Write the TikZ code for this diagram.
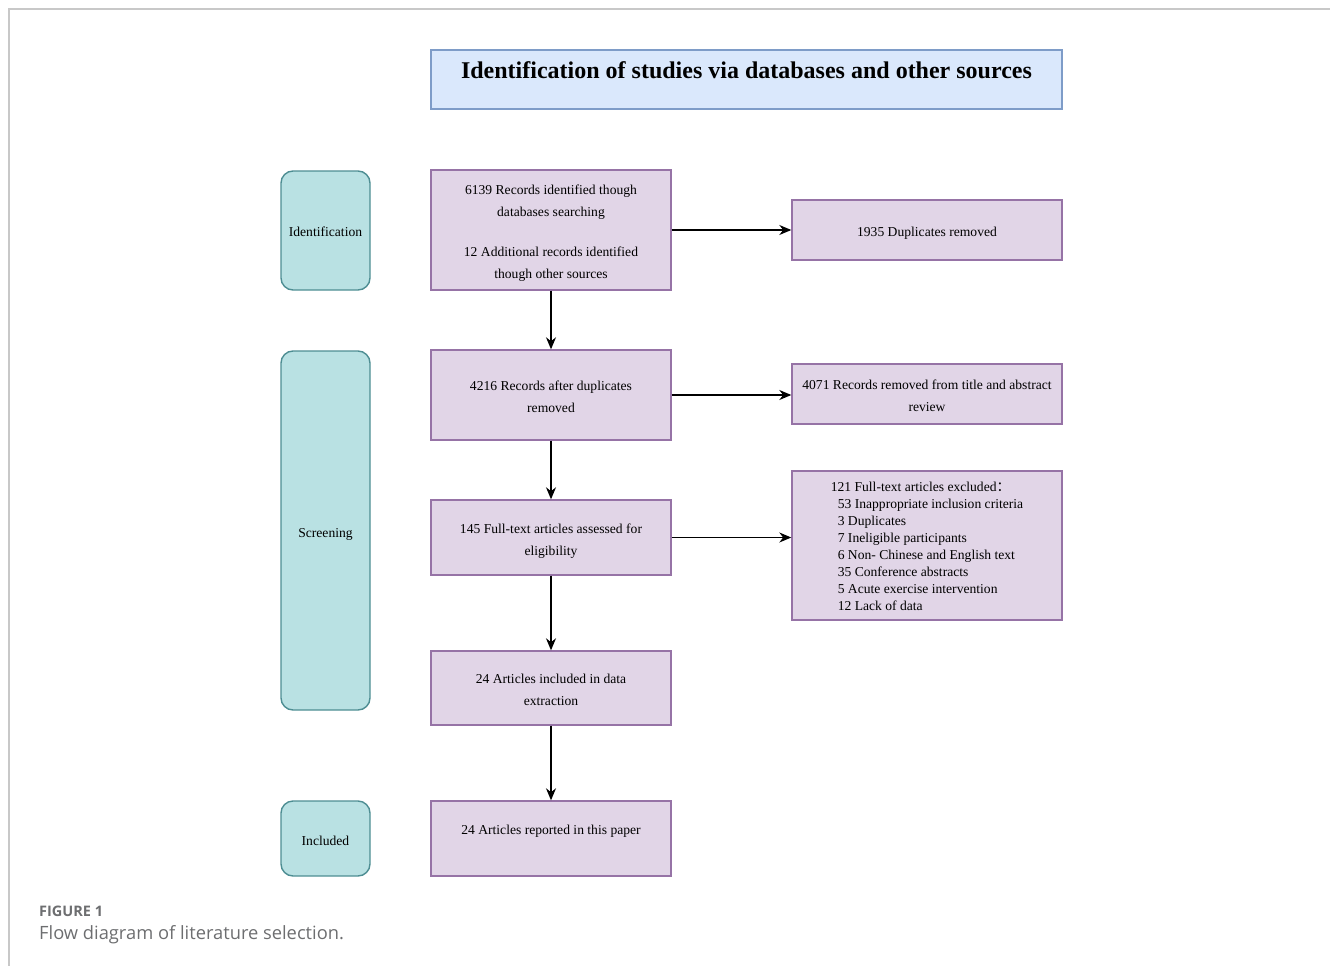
\documentclass[tikz,border=0pt]{standalone}
\usepackage{fontspec}
\setmainfont{Liberation Serif}
\newfontfamily\capfont{Open Sans}
\newfontfamily\cjk{Noto Sans CJK SC}
\usetikzlibrary{arrows.meta}
\definecolor{boxfill}{HTML}{E1D5E7}
\definecolor{boxline}{HTML}{9673A6}
\definecolor{stagefill}{HTML}{B9E1E3}
\definecolor{stageline}{HTML}{4E8E93}
\definecolor{titlefill}{HTML}{DAE8FC}
\definecolor{titleline}{HTML}{7E9CC8}
\definecolor{framegray}{HTML}{C8C8C8}
\definecolor{capgray}{HTML}{6D6E70}

\begin{document}
\begin{tikzpicture}[x=1pt,y=-1pt,font=\fontsize{13.6}{22}\selectfont,
  box/.style={draw=boxline,fill=boxfill,line width=1.4pt,align=center,inner sep=0pt,minimum width=240pt},
  side/.style={box,minimum width=270pt},
  stage/.style={draw=stageline,fill=stagefill,line width=1.4pt,rounded corners=12pt,minimum width=89pt,inner sep=0pt},
  tb/.style 2 args={text height=#1pt,text depth=#2pt},
  link/.style={->,line width=1.3pt},
  >={Stealth[length=12pt,width=10pt]}]
\useasboundingbox (0,0) rectangle (1331,966);
\draw[framegray,line width=1.2pt] (9,966) -- (9,9) -- (1330,9);
\node[draw=titleline,fill=titlefill,line width=1.4pt,minimum width=631pt,inner sep=0pt,tb={28}{31},font=\fontsize{24}{28}\selectfont\bfseries] (title) at (746.5,79.5) {Identification of studies via databases and other sources};
% stages
\node[stage,tb={65.5}{53.5}] (ident) at (325.5,230.5) {Identification};
\node[stage,tb={186.5}{172.5}] (screen) at (325.5,530.5) {Screening};
\node[stage,tb={44.5}{30.5}] (incl) at (325.5,838.5) {Included};
% main column
\node[box,tb={108.5}{11.5}] (found) at (551,230) {6139 Records identified though\\databases searching\\[18pt]12 Additional records identified\\though other sources};
\node[box,tb={62.5}{27.5}] (rec) at (551,395) {4216 Records after duplicates\\removed};
\node[box,tb={55.5}{19.5}] (full) at (551,537.5) {145 Full-text articles assessed for\\eligibility};
\node[box,tb={54.5}{19.5}] (extr) at (551,688) {24 Articles included in data\\extraction};
\node[box,tb={33.5}{41.5}] (rep) at (551,838.5) {24 Articles reported in this paper};
% side column
\node[side,tb={36.5}{23.5}] (dup) at (927,230) {1935 Duplicates removed};
\node[side,tb={47.5}{12.5}] (rem) at (927,394) {4071 Records removed from title and abstract\\review};
\node[side,tb={139.5}{9.5},align=left,font=\fontsize{13.6}{17}\selectfont] (excl) at (927,545.5) {121 Full-text articles excluded{\cjk ：}\\
\hspace*{7pt}53 Inappropriate inclusion criteria\\
\hspace*{7pt}3 Duplicates\\
\hspace*{7pt}7 Ineligible participants\\
\hspace*{7pt}6 Non- Chinese and English text\\
\hspace*{7pt}35 Conference abstracts\\
\hspace*{7pt}5 Acute exercise intervention\\
\hspace*{7pt}12 Lack of data};
% caption
\node[anchor=base west,inner sep=0pt,text=capgray,font=\capfont\bfseries\fontsize{14.5}{15}\selectfont] (fig) at (39,916) {FIGURE 1};
\node[anchor=base west,inner sep=0pt,text=capgray,font=\capfont\fontsize{18.3}{20}\selectfont] (cap) at (39,939) {Flow diagram of literature selection.};
% arrows
\draw[link] (found) -- (dup);
\draw[link] (found) -- (rec);
\draw[link] (rec.east) -- (rec.east -| rem.west);
\draw[link] (rec) -- (full);
\draw[link] (full.east) -- (full.east -| excl.west);
\draw[link] (full) -- (extr);
\draw[link] (extr) -- (rep);
\end{tikzpicture}
\end{document}
